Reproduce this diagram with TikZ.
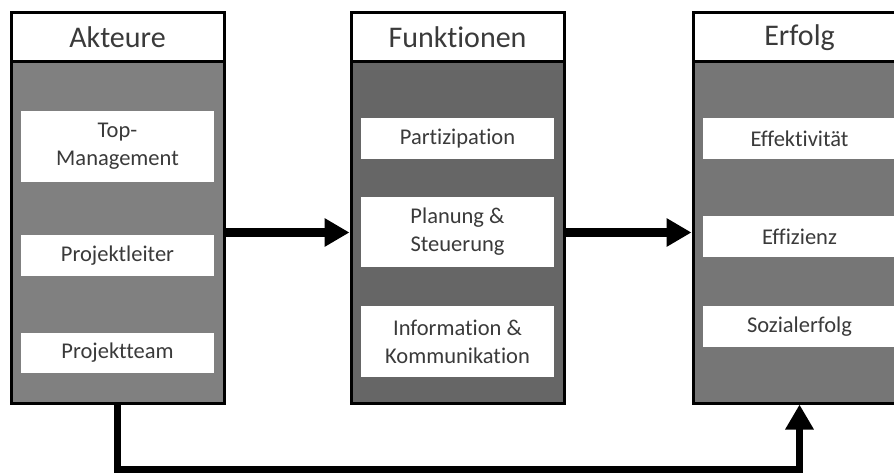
\documentclass[tikz,border=0pt]{standalone}
\usepackage{fontspec}
\setmainfont[RawFeature={-liga;-dlig}]{Carlito}
\usetikzlibrary{arrows.meta}

\definecolor{txt}{HTML}{3A3A3A}
\definecolor{grayA}{HTML}{808080}
\definecolor{grayB}{HTML}{666666}
\definecolor{grayC}{HTML}{767676}

\tikzset{
  x=1pt, y=-1pt,
  colhead/.style={draw=black, line width=3pt, fill=white, inner sep=0pt,
    minimum width=213pt, minimum height=49pt, text=txt,
    font=\fontsize{30}{36}\selectfont},
  colbody/.style={draw=black, line width=3pt, inner sep=0pt,
    minimum width=213pt, minimum height=341pt},
  item/.style={fill=white, inner sep=0pt, minimum width=193pt, text=txt,
    align=center, font=\fontsize{22.5}{28}\selectfont},
  flow/.style={line width=8pt, -{Triangle[length=25pt,width=27pt]}},
  feedback/.style={line width=7pt, line join=miter, -{Triangle[length=25pt,width=27pt]}},
}

\begin{document}
\begin{tikzpicture}
\useasboundingbox (0,0) rectangle (894,473);
\clip (0,0) rectangle (894,473);

% column bodies
\node[colbody, fill=grayA] (b1) at (117.5,232.5) {};
\node[colbody, fill=grayB] (b2) at (457.5,232.5) {};
\node[colbody, fill=grayC] (b3) at (799.5,232.5) {};

% column headers
\node[colhead] (h1) at (117.5,37.5) {Akteure};
\node[colhead] (h2) at (457.5,37.5) {Funktionen};
\node[colhead] (h3) at (799.5,37.5) {Erfolg};

% Akteure
\node[item, minimum height=71pt] (a1) at (117.5,146.5) {Top-\\Management};
\node[item, minimum height=41pt] (a2) at (117.5,255.5) {Projektleiter};
\node[item, minimum height=40pt] (a3) at (117.5,353) {Projektteam};

% Funktionen
\node[item, minimum height=41pt] (f1) at (457.5,138.5) {Partizipation};
\node[item, minimum height=70pt] (f2) at (457.5,232) {Planung \&\\Steuerung};
\node[item, minimum height=71pt] (f3) at (457.5,341.5) {Information \&\\Kommunikation};

% Erfolg
\node[item, minimum height=41pt] (e1) at (799.5,138.5) {Effektivität};
\node[item, minimum height=41pt] (e2) at (799.5,236.5) {Effizienz};
\node[item, minimum height=41pt] (e3) at (799.5,326.5) {Sozialerfolg};

% connectors
\draw[flow] (b1.east) -- (b2.west);
\draw[flow] (b2.east) -- (b3.west);
\draw[feedback] (b1.south) -- ++(0,65) -| (b3.south);
\end{tikzpicture}
\end{document}
